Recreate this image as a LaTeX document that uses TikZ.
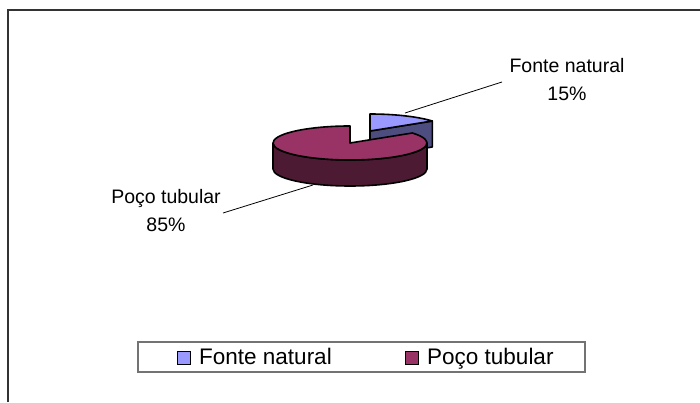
\documentclass[tikz,border=0pt]{standalone}
\usepackage{fontspec}
\setmainfont{Liberation Sans}
\definecolor{fonte}{HTML}{9999FF}
\definecolor{fonteside}{HTML}{4D4D80}
\definecolor{poco}{HTML}{993366}
\definecolor{pocoside}{HTML}{4D1A33}
\tikzset{
  slice/.style={draw=black, line width=1.6pt, line join=round},
  lbl/.style={align=center, font=\fontsize{19.5}{28}\selectfont, inner sep=0pt},
  leg/.style={anchor=base west, font=\fontsize{22.5}{27}\selectfont, inner sep=0pt},
  swatch/.style={draw=black, line width=1pt, minimum size=13pt, inner sep=0pt}
}
\begin{document}
\begin{tikzpicture}[x=1pt,y=1pt]
\useasboundingbox (0,0) rectangle (700,402);
\draw[line width=1.2pt, black!80] (8,0)--(8,392)--(700,392);
% pie centres
\coordinate (c) at (350,259);
\coordinate (cs) at (370,271);
\coordinate (pr) at (427,259);
% exploded slice
\filldraw[slice, fill=fonteside] (cs) -- ++(62.3,10) -- ++(0,-26) -- ++(-62.3,-10) -- cycle;
\filldraw[slice, fill=fonte] (cs) -- ++(0,17) arc[start angle=90, end angle=36, x radius=77pt, y radius=17pt] -- cycle;
% big slice
\filldraw[slice, fill=pocoside] (pr) arc[start angle=0, end angle=-180, x radius=77pt, y radius=17pt] -- ++(0,-26)
  arc[start angle=-180, end angle=0, x radius=77pt, y radius=17pt] -- cycle;
\filldraw[slice, fill=poco] (c) -- ++(62.3,10) arc[start angle=36, end angle=-270, x radius=77pt, y radius=17pt] -- cycle;
% labels
\node[lbl] (fn) at (567,322) {Fonte natural\\15\%};
\node[lbl] (pt) at (166,191) {Poço tubular\\85\%};
\coordinate (fna) at (405,289);
\coordinate (fnb) at (502,320);
\coordinate (pta) at (223,189);
\coordinate (ptb) at (313,217);
\draw[line width=0.8pt] (fna)--(fnb);
\draw[line width=0.8pt] (pta)--(ptb);
% legend
\node[draw=black!55, line width=1.2pt, minimum width=447pt, minimum height=30pt, inner sep=0pt] (legend) at (361.5,45) {};
\node[swatch, fill=fonte] (swf) at (184,44.5) {};
\node[swatch, fill=poco] (swp) at (411.5,44.5) {};
\node[leg] (txf) at (199,38) {Fonte natural};
\node[leg] (txp) at (427,38) {Poço tubular};
\end{tikzpicture}
\end{document}
